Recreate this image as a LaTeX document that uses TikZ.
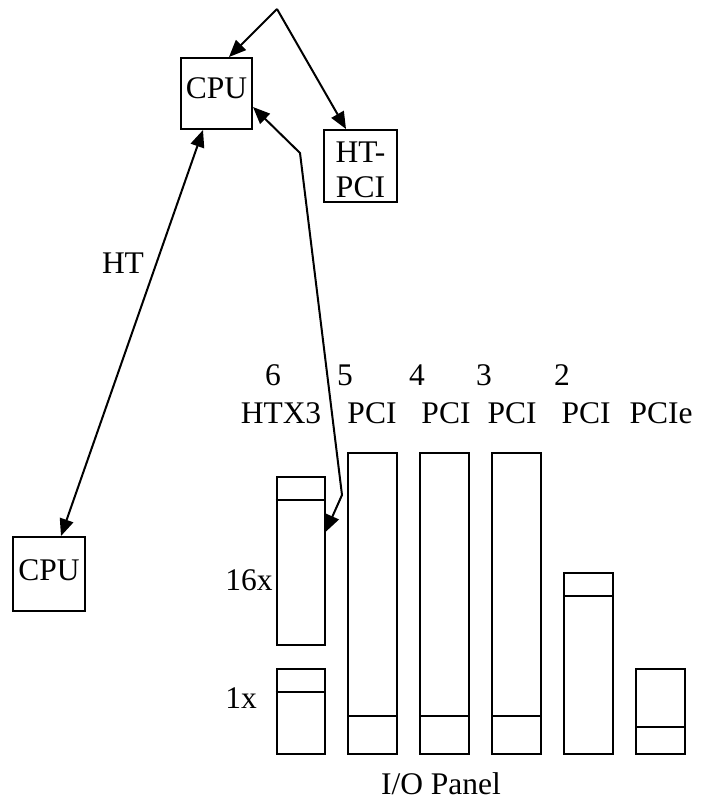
\documentclass[tikz,border=0pt]{standalone}
\usepackage{fontspec}
\setmainfont{Liberation Serif}
\usetikzlibrary{arrows.meta,calc}
\begin{document}
\begin{tikzpicture}[x=1pt,y=-1pt,
  box/.style={draw,line width=2pt,inner sep=0pt},
  txt/.style={anchor=base,inner sep=0pt,font=\fontsize{31.5}{36}\selectfont},
  ln/.style={line width=2pt},
  arr/.style={line width=2pt,-{Triangle[length=17pt,width=14pt]}},
  darr/.style={line width=2pt,line join=miter,{Triangle[length=17pt,width=14pt]}-{Triangle[length=17pt,width=14pt]}}]
\useasboundingbox (0,0) rectangle (702,799);
% boxes
\node[box,minimum width=71,minimum height=71] (cpu1) at (216.5,93.5) {};
\node[txt] (cpu1t) at (216.5,99) {CPU};
\node[box,minimum width=73,minimum height=72] (htpci) at (360.5,166) {};
\node[txt] (htpcia) at (360.5,163) {HT-};
\node[txt] (htpcib) at (360.5,198) {PCI};
\node[box,minimum width=72,minimum height=74] (cpu2) at (49,574) {};
\node[txt] (cpu2t) at (49,580) {CPU};
% slots
\node[box,minimum width=48,minimum height=168] (htxa) at (300.5,561) {};
\node[box,minimum width=48,minimum height=85] (htxb) at (300.5,711.5) {};
\node[box,minimum width=49,minimum height=301] (pcif) at (372.5,603.5) {};
\node[box,minimum width=49,minimum height=301] (pcid) at (444.5,603.5) {};
\node[box,minimum width=49,minimum height=301] (pcic) at (516.5,603.5) {};
\node[box,minimum width=49,minimum height=181] (pcib) at (588.5,663.5) {};
\node[box,minimum width=49,minimum height=85] (pcie) at (660.5,711.5) {};
\draw[ln] ($(htxa.north west)+(0,24)$) -- ($(htxa.north east)+(0,24)$);
\draw[ln] ($(htxb.north west)+(0,24)$) -- ($(htxb.north east)+(0,24)$);
\draw[ln] ($(pcif.north west)+(0,264)$) -- ($(pcif.north east)+(0,264)$);
\draw[ln] ($(pcid.north west)+(0,264)$) -- ($(pcid.north east)+(0,264)$);
\draw[ln] ($(pcic.north west)+(0,264)$) -- ($(pcic.north east)+(0,264)$);
\draw[ln] ($(pcib.north west)+(0,24)$) -- ($(pcib.north east)+(0,24)$);
\draw[ln] ($(pcie.north west)+(0,59)$) -- ($(pcie.north east)+(0,59)$);
% labels
\node[txt] (n6) at (273,385) {6};
\node[txt] (n5) at (345,385) {5};
\node[txt] (n4) at (417,385) {4};
\node[txt] (n3) at (484,385) {3};
\node[txt] (n2) at (562,385) {2};
\node[txt] (l6) at (281,423) {HTX3};
\node[txt] (l5) at (372,423) {PCI};
\node[txt] (l4) at (446,423) {PCI};
\node[txt] (l3) at (512,423) {PCI};
\node[txt] (l2) at (586,423) {PCI};
\node[txt] (l1) at (661,423) {PCIe};
\node[txt] (ht) at (123,273) {HT};
\node[txt] (x16) at (249,590) {16x};
\node[txt] (x1) at (241,708) {1x};
\node[txt] (io) at (441,794) {I/O Panel};
% connectors
\coordinate (apex) at (277,9);
\coordinate (bend1) at (300,153);
\coordinate (bend2) at (342,495);
\draw[arr] (apex) -- ($(cpu1.north west)+(49,0)$);
\draw[arr] (apex) -- ($(htpci.north west)+(23,0)$);
\draw[darr] ($(cpu1.south west)+(23,0)$) -- ($(cpu2.north west)+(49,0)$);
\draw[darr] ($(cpu1.north east)+(0,50)$) -- (bend1) -- (bend2) -- ($(htxa.north east)+(0,56)$);
\end{tikzpicture}
\end{document}
